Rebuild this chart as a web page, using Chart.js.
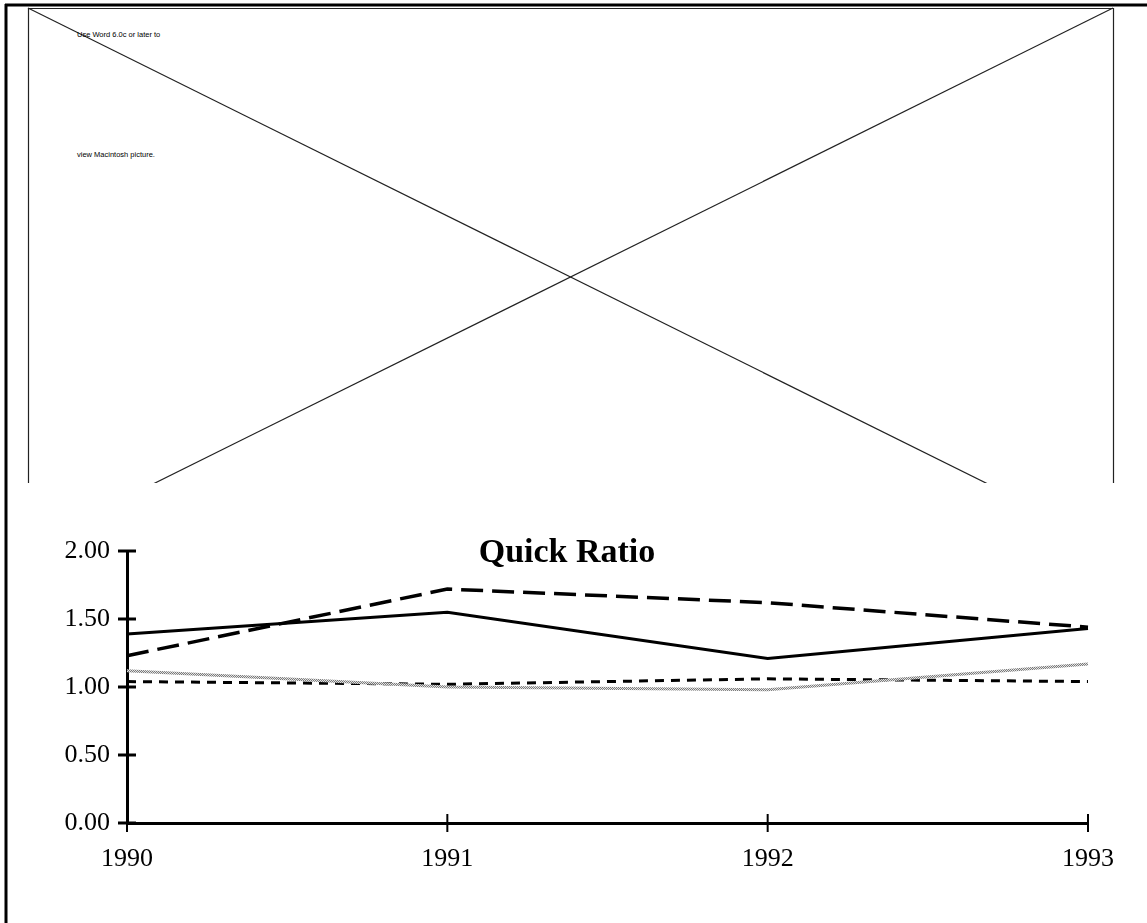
<!DOCTYPE html>
<html>
<head>
<meta charset="utf-8">
<script src="https://cdn.jsdelivr.net/npm/chart.js@4/dist/chart.umd.min.js"></script>
<style>
  html, body { margin: 0; padding: 0; background: #fff; }
  body { width: 1147px; height: 923px; position: relative; overflow: hidden; }
  #frame { position: absolute; left: 0; top: 0; }
  #wrap { position: absolute; left: 0; top: 483px; width: 1147px; height: 440px; }
  #title {
    position: absolute; left: 437px; top: 532px; width: 260px; text-align: center; line-height: 38px;
    font: bold 34px "Liberation Serif", "Times New Roman", serif; color: #000;
  }
  .note { font-family: "Liberation Sans", Arial, sans-serif; font-size: 7.5px; fill: #000; }
</style>
</head>
<body>
<svg id="frame" width="1147" height="923" viewBox="0 0 1147 923">
  <defs>
    <clipPath id="pic"><rect x="0" y="0" width="1147" height="483"/></clipPath>
  </defs>
  <!-- page frame -->
  <line x1="6" y1="4" x2="6" y2="923" stroke="#000" stroke-width="3"/>
  <line x1="5" y1="5" x2="1147" y2="5" stroke="#000" stroke-width="3"/>
  <!-- empty picture placeholder -->
  <g clip-path="url(#pic)" stroke="#222" stroke-width="1.2" fill="none">
    <line x1="28" y1="8.5" x2="1113" y2="8.5"/>
    <line x1="28.5" y1="8" x2="28.5" y2="546"/>
    <line x1="1113.5" y1="8" x2="1113.5" y2="546"/>
    <line x1="28" y1="8" x2="1113" y2="546"/>
    <line x1="1113" y1="8" x2="28" y2="546"/>
  </g>
  <text class="note" x="77" y="37">Use Word 6.0c or later to</text>
  <text class="note" x="77" y="157">view Macintosh picture.</text>
</svg>
<div id="wrap"><canvas id="c" width="1147" height="440"></canvas></div>
<div id="title">Quick Ratio</div>
<script>
const years = ['1990', '1991', '1992', '1993'];
const firmRatio = [1.39, 1.55, 1.21, 1.43];
const peerRatio = [1.23, 1.72, 1.62, 1.44];
const sectorRatio = [1.12, 1.00, 0.98, 1.17];
const marketRatio = [1.04, 1.02, 1.06, 1.04];
const yTicks = [0, 0.5, 1.0, 1.5, 2.0];

// fine checkered grey used for the stippled line
function stipple() {
  const p = document.createElement('canvas');
  p.width = 2; p.height = 2;
  const g = p.getContext('2d');
  g.fillStyle = '#e2e2e2'; g.fillRect(0, 0, 2, 2);
  g.fillStyle = '#7a7a7a'; g.fillRect(0, 0, 1, 1); g.fillRect(1, 1, 1, 1);
  return g.createPattern(p, 'repeat');
}

// tick marks that cross the axis lines
const crossTicks = {
  id: 'crossTicks',
  afterDraw(chart) {
    const ctx = chart.ctx;
    const xs = chart.scales.x, ys = chart.scales.y;
    const ax = ys.left + ys.width, ay = xs.top;
    ctx.save();
    ctx.strokeStyle = '#000';
    ctx.lineWidth = 3;
    ys.ticks.forEach((t, i) => {
      const y = ys.getPixelForTick(i);
      ctx.beginPath(); ctx.moveTo(ax - 9, y); ctx.lineTo(ax + 9, y); ctx.stroke();
    });
    ctx.lineWidth = 2;
    xs.ticks.forEach((t, i) => {
      const x = xs.getPixelForTick(i);
      ctx.beginPath(); ctx.moveTo(x, ay - 9); ctx.lineTo(x, ay + 9); ctx.stroke();
    });
    ctx.restore();
  }
};

const serif = '"Liberation Serif", "Times New Roman", serif';

new Chart(document.getElementById('c'), {
  type: 'line',
  data: {
    labels: years,
    datasets: [
      { label: 'Firm', data: firmRatio, borderColor: '#000', borderWidth: 3, pointRadius: 0, tension: 0 },
      { label: 'Peers', data: peerRatio, borderColor: '#000', borderWidth: 3.5, borderDash: [22, 9], pointRadius: 0, tension: 0 },
      { label: 'Sector', data: sectorRatio, borderColor: stipple(), borderWidth: 3, pointRadius: 0, tension: 0 },
      { label: 'Market', data: marketRatio, borderColor: '#000', borderWidth: 3, borderDash: [9, 7], pointRadius: 0, tension: 0 }
    ]
  },
  options: {
    responsive: false,
    animation: false,
    layout: { padding: { left: 0, right: 59, top: 68, bottom: 0 } },
    plugins: { legend: { display: false }, title: { display: false }, tooltip: { enabled: false } },
    scales: {
      x: {
        type: 'category',
        offset: false,
        grid: { display: false, drawTicks: false },
        border: { display: true, color: '#000', width: 3 },
        ticks: { color: '#000', font: { family: serif, size: 26 }, padding: 21, maxRotation: 0 },
        afterFit(s) { s.height = 100; }
      },
      y: {
        min: 0, max: 2,
        afterBuildTicks(s) { s.ticks = yTicks.map(v => ({ value: v })); },
        grid: { display: false, drawTicks: false },
        border: { display: true, color: '#000', width: 3 },
        ticks: { color: '#000', font: { family: serif, size: 26 }, padding: 17,
                 callback: v => Number(v).toFixed(2) },
        afterFit(s) { s.width = 127; }
      }
    }
  },
  plugins: [crossTicks]
});
</script>
</body>
</html>
